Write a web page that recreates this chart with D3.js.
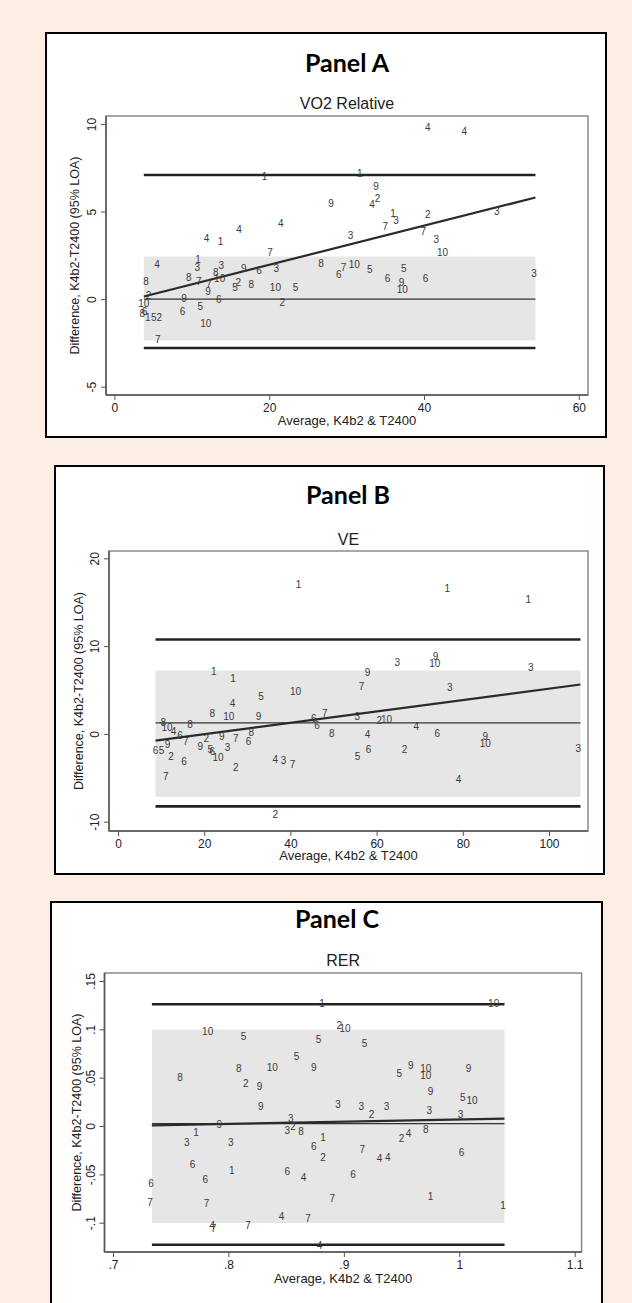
<!DOCTYPE html>
<html><head><meta charset="utf-8">
<script src="https://cdn.jsdelivr.net/npm/d3@7/dist/d3.min.js"></script>
<style>
html,body{margin:0;padding:0;background:#fdeee4;}
svg{display:block;}
</style></head>
<body>
<svg id="c" width="632" height="1303"></svg>
<script>
// ---------- Panel A: VO2 Relative ----------
const panelA_title = "Panel A", panelA_sub = "VO2 Relative";
const panelA_xTicks = [0, 20, 40, 60];
const panelA_yTicks = [10, 5, 0, -5];
const panelA_yTickLabels = ["10", "5", "0", "-5"];
const panelA_id  = [4,4,1,1,9,2,4,9,1,3,7,2,7,3,3,10,3,3,4,4,4,1,7,4,1,3,3,8,9,6,3,8,7,10,6,5,5,6,9,10,6,8,8,7,7,10,9,5,2,8,10,5,2,9,6,2,10,5,6,8,1,5,2,10,7,6];
const panelA_avg = [40.5,45.2,19.4,31.7,33.8,34.0,33.3,28.0,36.0,36.4,35.0,40.5,39.9,49.4,41.6,42.4,54.2,30.5,21.5,16.1,11.9,13.7,20.1,5.5,10.8,10.7,13.8,13.1,16.7,18.7,20.9,26.7,29.6,31.0,29.0,33.0,37.4,35.3,37.1,37.2,40.2,4.1,9.6,10.9,12.2,13.6,12.1,15.6,16.0,17.7,20.8,23.4,4.4,9.0,13.5,21.7,3.8,11.1,8.8,3.6,4.3,5.1,5.8,11.8,5.6,3.9];
const panelA_diff= [9.79,9.6,7.0,7.15,6.43,5.72,5.42,5.48,4.9,4.49,4.14,4.81,3.88,5.0,3.42,2.66,1.48,3.61,4.33,3.99,3.48,3.29,2.66,1.96,2.28,1.83,1.9,1.52,1.77,1.63,1.77,2.02,1.83,2.0,1.39,1.67,1.77,1.2,0.97,0.57,1.2,1.01,1.24,1.01,0.86,1.2,0.44,0.67,0.97,0.82,0.67,0.68,0.21,0.06,0.0,-0.19,-0.23,-0.42,-0.7,-0.8,-1.03,-1.03,-1.03,-1.41,-2.28,-0.72];
const panelA_range = [3.8, 54.4];           // x extent of reference lines
const panelA_loa = [7.09, -2.79];           // upper / lower limits of agreement
const panelA_band = [2.43, -2.36];          // shaded band
const panelA_mean = 0.0;                    // thin horizontal line
const panelA_fit = [0.15, 5.8];             // regression line y at range ends

// ---------- Panel B: VE ----------
const panelB_title = "Panel B", panelB_sub = "VE";
const panelB_xTicks = [0, 20, 40, 60, 80, 100];
const panelB_yTicks = [20, 10, 0, -10];
const panelB_yTickLabels = ["20", "10", "0", "-10"];
const panelB_id  = [1,1,1,1,1,3,9,10,9,3,7,3,10,5,4,8,10,9,7,6,6,3,2,10,4,6,8,4,9,10,3,2,6,5,4,2,4,3,7,2,10,3,6,7,2,6,5,9,10,8,4,6,7,8,9,2,5,6,9,7,8,6];
const panelB_avg = [41.9,76.4,95.2,22.2,26.7,64.8,73.7,73.5,57.9,95.8,56.5,77.0,41.2,33.2,26.6,21.9,25.7,32.6,48.0,45.4,46.2,55.5,60.6,62.3,69.2,74.1,49.6,57.9,85.2,85.2,106.8,66.5,58.1,55.6,79.0,36.5,36.5,38.4,40.5,27.3,23.2,25.4,15.3,11.1,12.3,8.7,10.1,11.5,11.4,10.5,12.9,14.4,15.7,16.7,19.1,20.5,21.4,21.9,24.1,27.3,30.9,30.3];
const panelB_diff= [16.96,16.58,15.32,7.15,6.31,8.1,8.86,8.02,7.03,7.53,5.36,5.25,4.87,4.3,3.46,2.28,1.94,2.02,2.28,1.75,0.99,1.94,1.52,1.63,0.8,0.0,0.0,-0.08,-0.27,-1.14,-1.71,-1.79,-1.79,-2.62,-5.21,-9.13,-2.93,-3.04,-3.5,-3.8,-2.74,-1.6,-3.12,-4.83,-2.55,-1.9,-1.9,-1.22,0.68,1.25,0.3,-0.15,-0.84,1.06,-1.41,-0.53,-1.79,-1.95,-0.27,-0.53,0.11,-0.84];
const panelB_range = [8.7, 107.3];
const panelB_loa = [10.76, -8.25];
const panelB_band = [7.22, -7.19];
const panelB_mean = 1.25;
const panelB_fit = [-0.76, 5.63];

// ---------- Panel C: RER ----------
const panelC_title = "Panel C", panelC_sub = "RER";
const panelC_xTicks = [0.7, 0.8, 0.9, 1.0, 1.1];
const panelC_xTickLabels = [".7", ".8", ".9", "1", "1.1"];
const panelC_yTicks = [0.15, 0.1, 0.05, 0, -0.05, -0.1];
const panelC_yTickLabels = [".15", ".1", ".05", "0", "-.05", "-.1"];
const panelC_id  = [1,10,10,2,10,5,5,5,5,8,10,9,8,2,9,5,9,10,10,9,9,5,10,9,3,3,2,3,3,3,3,9,2,3,8,1,3,3,1,6,2,7,4,4,2,4,8,6,6,1,6,6,4,6,6,7,7,7,1,1,4,7,4,7,7,4];
const panelC_avg = [0.881,1.0298,0.782,0.896,0.901,0.813,0.878,0.918,0.859,0.809,0.838,0.874,0.758,0.815,0.827,0.948,0.958,0.971,0.971,1.008,0.975,1.003,1.011,0.828,0.895,0.915,0.924,0.937,0.974,1.001,0.854,0.792,0.856,0.851,0.863,0.772,0.764,0.802,0.882,0.874,0.882,0.916,0.931,0.938,0.95,0.956,0.971,1.002,0.769,0.803,0.78,0.851,0.865,0.908,0.733,0.732,0.781,0.89,0.975,1.038,0.846,0.869,0.786,0.787,0.817,0.879];
const panelC_diff= [0.1266,0.1266,0.098,0.104,0.101,0.0928,0.0897,0.0852,0.0721,0.0593,0.0603,0.061,0.0507,0.0438,0.041,0.0541,0.0628,0.0593,0.0524,0.06,0.0359,0.03,0.0259,0.0197,0.0224,0.0197,0.0117,0.0203,0.0162,0.0117,0.0076,0.0014,-0.001,-0.0045,-0.0052,-0.0069,-0.0166,-0.0166,-0.0114,-0.021,-0.0321,-0.0241,-0.0338,-0.0328,-0.0124,-0.0079,-0.0034,-0.0279,-0.04,-0.0459,-0.0552,-0.0469,-0.0528,-0.05,-0.059,-0.0786,-0.0803,-0.0752,-0.0734,-0.0821,-0.0941,-0.0952,-0.1028,-0.1062,-0.1028,-0.1234];
const panelC_range = [0.7337, 1.0392];
const panelC_loa = [0.1259, -0.1228];
const panelC_band = [0.0997, -0.1003];
const panelC_mean = 0.0024;
const panelC_fit = [0.0007, 0.0076];

const xTitle = "Average, K4b2 & T2400";
const yTitle = "Difference, K4b2-T2400 (95% LOA)";

const svg = d3.select("#c");

function drawPanel(p) {
  const g = svg.append("g");
  // panel box
  g.append("rect").attr("x", p.box[0]).attr("y", p.box[1])
    .attr("width", p.box[2]-p.box[0]).attr("height", p.box[3]-p.box[1])
    .attr("fill", "#fff").attr("stroke", "#000").attr("stroke-width", 2);

  const x = d3.scaleLinear().domain(p.xDom).range(p.xRange);
  const y = d3.scaleLinear().domain(p.yDom).range(p.yRange);
  const fr = p.frame;

  // titles
  g.append("text").attr("x", p.titleX).attr("y", p.titleY).attr("text-anchor", "middle")
    .attr("font-family", "Lato, 'Open Sans', sans-serif").attr("font-weight", "bold")
    .attr("font-size", 25).attr("fill", "#000").text(p.title);
  g.append("text").attr("x", (fr[0]+fr[2])/2).attr("y", p.subY).attr("text-anchor", "middle")
    .attr("font-family", "'Liberation Sans', Arial, sans-serif")
    .attr("font-size", 16).attr("fill", "#222").text(p.sub);

  // plot region frame
  g.append("rect").attr("x", fr[0]).attr("y", fr[1]).attr("width", fr[2]-fr[0]).attr("height", fr[3]-fr[1])
    .attr("fill", "#fff").attr("stroke", "#8a8a8a").attr("stroke-width", 1.5);

  // shaded band
  g.append("rect").attr("x", x(p.range[0])).attr("y", y(p.band[0]))
    .attr("width", x(p.range[1]) - x(p.range[0])).attr("height", y(p.band[1]) - y(p.band[0]))
    .attr("fill", "#e6e6e6");

  // axes
  const xAxis = d3.axisBottom(x).tickValues(p.xTicks).tickSize(5).tickPadding(3)
    .tickFormat((d,i) => p.xTickLabels ? p.xTickLabels[i] : d3.format("d")(d));
  const gx = g.append("g").attr("transform", `translate(0,${fr[3]})`).call(xAxis);
  gx.select(".domain").attr("stroke", "#555").attr("stroke-width", 1.5)
    .attr("d", `M${fr[0]},0H${fr[2]}`);
  gx.selectAll(".tick line").attr("stroke", "#555");
  gx.selectAll(".tick text").attr("font-family", "'Liberation Sans', Arial, sans-serif")
    .attr("font-size", 12).attr("fill", "#222");

  const yAxis = d3.axisLeft(y).tickValues(p.yTicks).tickSize(5).tickFormat((d,i) => p.yTickLabels[i]);
  const gy = g.append("g").attr("transform", `translate(${fr[0]},0)`).call(yAxis);
  gy.select(".domain").attr("stroke", "#555").attr("stroke-width", 1.5)
    .attr("d", `M0,${fr[1]}V${fr[3]}`);
  gy.selectAll(".tick line").attr("stroke", "#555");
  gy.selectAll(".tick text").attr("font-family", "'Liberation Sans', Arial, sans-serif")
    .attr("font-size", 12).attr("fill", "#222")
    .attr("transform", "rotate(-90)").attr("x", 0).attr("y", -10)
    .attr("text-anchor", "middle").attr("dy", "0");

  // axis titles
  g.append("text").attr("x", (fr[0]+fr[2])/2).attr("y", p.xTitleY).attr("text-anchor", "middle")
    .attr("font-family", "'Liberation Sans', Arial, sans-serif").attr("font-size", 13)
    .attr("fill", "#222").text(xTitle);
  g.append("text").attr("transform", `translate(${p.yTitleX},${(fr[1]+fr[3])/2}) rotate(-90)`)
    .attr("text-anchor", "middle").attr("font-family", "'Liberation Sans', Arial, sans-serif")
    .attr("font-size", 12).attr("textLength", 198).attr("lengthAdjust", "spacingAndGlyphs")
    .attr("fill", "#222").text(yTitle);

  // reference lines
  const line = d3.line().x(d => x(d[0])).y(d => y(d[1]));
  g.append("path").attr("d", line([[p.range[0], p.mean], [p.range[1], p.mean]]))
    .attr("stroke", "#333").attr("stroke-width", 1.2).attr("fill", "none");
  p.loa.forEach(v => {
    g.append("path").attr("d", line([[p.range[0], v], [p.range[1], v]]))
      .attr("stroke", "#222").attr("stroke-width", 2.6).attr("fill", "none");
  });
  g.append("path").attr("d", line([[p.range[0], p.fit[0]], [p.range[1], p.fit[1]]]))
    .attr("stroke", "#2a2a2a").attr("stroke-width", 2.2).attr("fill", "none");

  // point labels
  g.append("g").selectAll("text").data(p.ids).join("text")
    .attr("x", (d,i) => x(p.avg[i])).attr("y", (d,i) => y(p.diff[i]))
    .attr("text-anchor", "middle").attr("dominant-baseline", "central")
    .attr("font-family", "'Liberation Sans', Arial, sans-serif").attr("font-size", 10)
    .attr("fill", "#3a3a3a").text(d => d);
}

drawPanel({
  box: [46, 33, 606, 437], frame: [106, 116, 588, 395],
  xDom: [0, 60], xRange: [114.4, 578.8], yDom: [-5, 10], yRange: [386.7, 124],
  title: panelA_title, sub: panelA_sub, titleX: 347, titleY: 72, subY: 109,
  xTitleY: 425, yTitleX: 79,
  xTicks: panelA_xTicks, yTicks: panelA_yTicks, yTickLabels: panelA_yTickLabels,
  ids: panelA_id, avg: panelA_avg, diff: panelA_diff,
  range: panelA_range, loa: panelA_loa, band: panelA_band, mean: panelA_mean, fit: panelA_fit
});
drawPanel({
  box: [55, 466, 604, 874], frame: [109, 551, 588, 831],
  xDom: [0, 100], xRange: [118, 549], yDom: [-10, 20], yRange: [821.7, 558.3],
  title: panelB_title, sub: panelB_sub, titleX: 348, titleY: 504, subY: 545,
  xTitleY: 860, yTitleX: 83,
  xTicks: panelB_xTicks, yTicks: panelB_yTicks, yTickLabels: panelB_yTickLabels,
  ids: panelB_id, avg: panelB_avg, diff: panelB_diff,
  range: panelB_range, loa: panelB_loa, band: panelB_band, mean: panelB_mean, fit: panelB_fit
});
drawPanel({
  box: [51, 902, 602, 1312], frame: [104.5, 973, 581.6, 1252],
  xDom: [0.7, 1.1], xRange: [113, 574.7], yDom: [-0.1, 0.15], yRange: [1222.7, 981],
  title: panelC_title, sub: panelC_sub, titleX: 337, titleY: 928, subY: 966,
  xTitleY: 1283, yTitleX: 81,
  xTicks: panelC_xTicks, xTickLabels: panelC_xTickLabels, yTicks: panelC_yTicks, yTickLabels: panelC_yTickLabels,
  ids: panelC_id, avg: panelC_avg, diff: panelC_diff,
  range: panelC_range, loa: panelC_loa, band: panelC_band, mean: panelC_mean, fit: panelC_fit
});
</script>
</body></html>
